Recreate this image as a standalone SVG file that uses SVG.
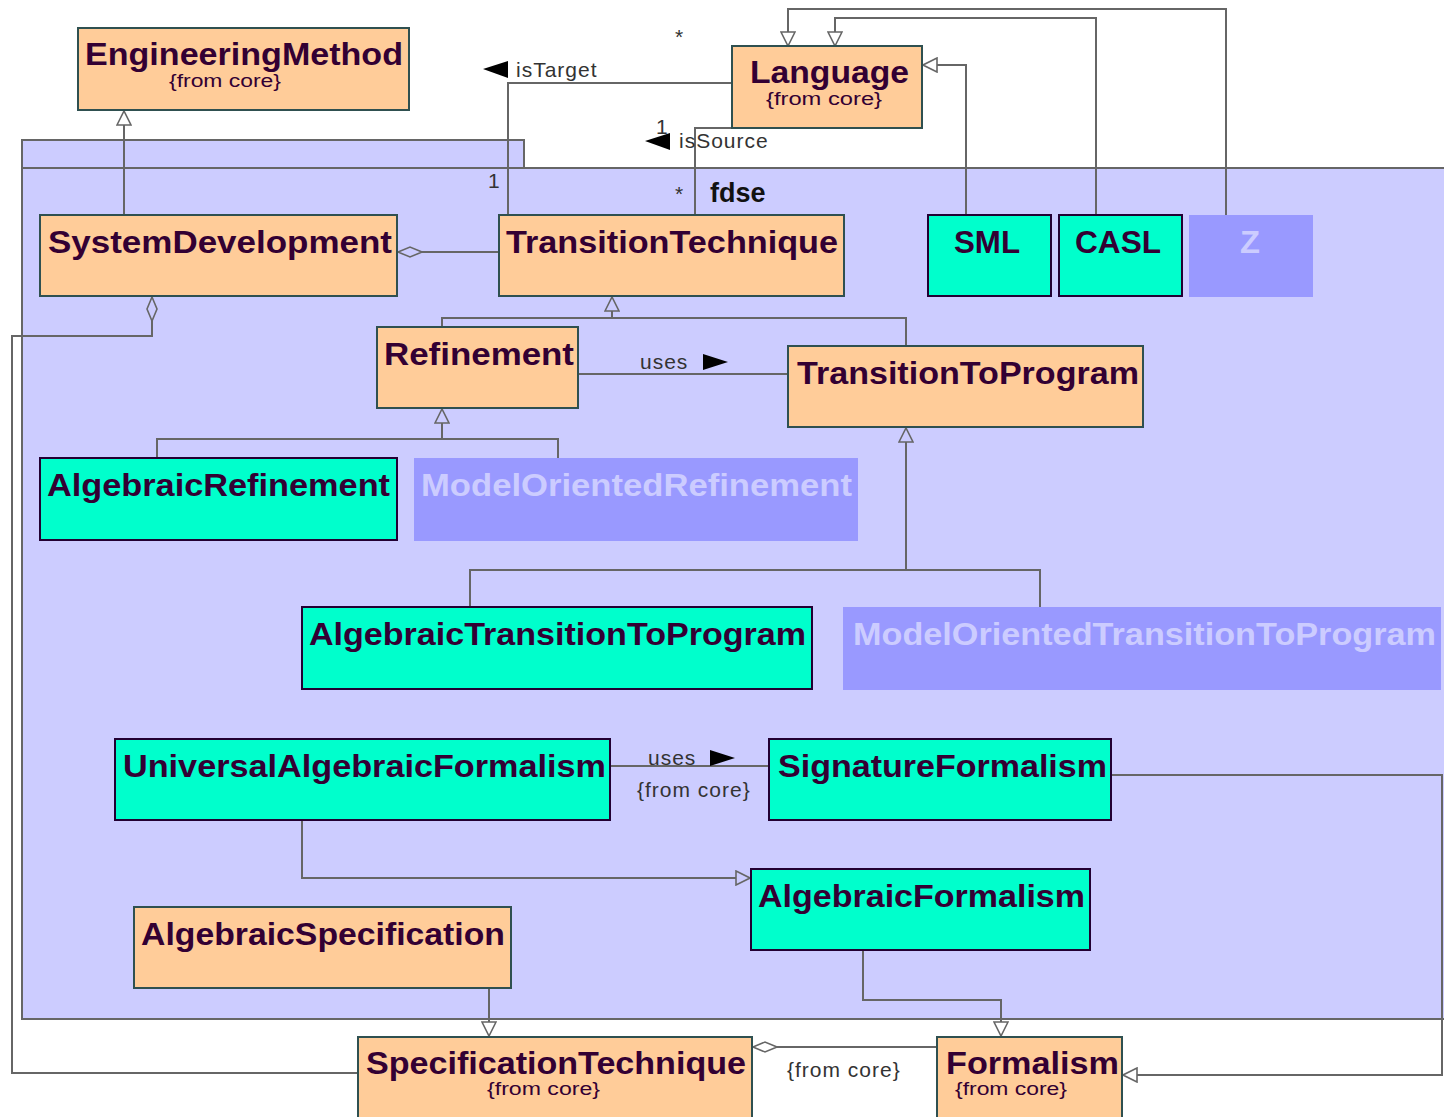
<svg xmlns="http://www.w3.org/2000/svg" width="1444" height="1117" viewBox="0 0 1444 1117">
<defs>
<marker id="gen" markerUnits="userSpaceOnUse" markerWidth="16" markerHeight="16" viewBox="0 0 16 16" refX="15" refY="8" orient="auto">
<path d="M1,1 L15,8 L1,15 Z" fill="#ffffff" stroke="#666666" stroke-width="1.6"/>
</marker>
<marker id="genb" markerUnits="userSpaceOnUse" markerWidth="16" markerHeight="16" viewBox="0 0 16 16" refX="15" refY="8" orient="auto">
<path d="M1,1 L15,8 L1,15 Z" fill="#ccccff" stroke="#666666" stroke-width="1.6"/>
</marker>
<marker id="dia" markerUnits="userSpaceOnUse" markerWidth="28" markerHeight="14" viewBox="0 0 28 14" refX="25" refY="7" orient="auto">
<path d="M1,7 L13,2 L25,7 L13,12 Z" fill="#ccccff" stroke="#666666" stroke-width="1.6"/>
</marker>
<marker id="diaw" markerUnits="userSpaceOnUse" markerWidth="28" markerHeight="14" viewBox="0 0 28 14" refX="25" refY="7" orient="auto">
<path d="M1,7 L13,2 L25,7 L13,12 Z" fill="#ffffff" stroke="#666666" stroke-width="1.6"/>
</marker>
</defs>
<style>
.or{fill:#ffcc99;stroke:#2f5050;stroke-width:2}
.cy{fill:#00ffcc;stroke:#220033;stroke-width:2}
.pu{fill:#9999ff;stroke:none}
.t{font-family:"Liberation Sans",Arial,sans-serif;font-weight:bold;font-size:31px;fill:#330033}
.tl{font-family:"Liberation Sans",Arial,sans-serif;font-weight:bold;font-size:31px;fill:#ccccff}
.f{font-family:"Liberation Sans",Arial,sans-serif;font-size:18px;fill:#330033}
.l{font-family:"Liberation Sans",Arial,sans-serif;font-size:21px;letter-spacing:1px;fill:#333333}
.c{fill:none;stroke:#666666;stroke-width:2}
</style>
<rect width="1444" height="1117" fill="#ffffff"/>
<g id="package-fdse">
<rect x="22" y="140" width="502" height="28" fill="#ccccff" stroke="#666666" stroke-width="2"/>
<rect x="22" y="168" width="1430" height="851" fill="#ccccff" stroke="#666666" stroke-width="2"/>
<text x="710" y="202" font-family="Liberation Sans,Arial,sans-serif" font-weight="bold" font-size="27" fill="#111111">fdse</text>
</g>
<g id="connectors">
<path class="c" d="M124,215 V111" marker-end="url(#gen)"/>
<path class="c" d="M732,83 H508 V215"/>
<path class="c" d="M695,215 V128 H732"/>
<path class="c" d="M966,215 V65 H923" marker-end="url(#gen)"/>
<path class="c" d="M1096,215 V18 H835 V46" marker-end="url(#gen)"/>
<path class="c" d="M1226,215 V9 H788 V46" marker-end="url(#gen)"/>
<path class="c" d="M499,252 H398" marker-end="url(#dia)"/>
<path class="c" d="M358,1073 H12 V336 H152 V297" marker-end="url(#dia)"/>
<path class="c" d="M442,327 V318 H906 V346"/>
<path class="c" d="M612,318 V297" marker-end="url(#genb)"/>
<path class="c" d="M578,374 H788"/>
<path class="c" d="M157,458 V439 H558 V458"/>
<path class="c" d="M442,439 V409" marker-end="url(#genb)"/>
<path class="c" d="M470,607 V570 H1040 V607"/>
<path class="c" d="M906,570 V428" marker-end="url(#genb)"/>
<path class="c" d="M610,766 H769"/>
<path class="c" d="M302,820 V878 H750" marker-end="url(#genb)"/>
<path class="c" d="M863,950 V1000 H1001 V1036" marker-end="url(#gen)"/>
<path class="c" d="M489,988 V1036" marker-end="url(#gen)"/>
<path class="c" d="M1111,775 H1442 V1075 H1123" marker-end="url(#gen)"/>
<path class="c" d="M937,1047 H753" marker-end="url(#diaw)"/>
<polygon points="483,69 508,61 508,78" fill="#000000"/>
<text class="l" x="516" y="77">isTarget</text>
<polygon points="645,141 670,133 670,150" fill="#000000"/>
<text class="l" x="679" y="148">isSource</text>
<text class="l" x="675" y="44">*</text>
<text class="l" x="488" y="188">1</text>
<text class="l" x="656" y="134">1</text>
<text class="l" x="675" y="201">*</text>
<text class="l" x="640" y="369">uses</text>
<polygon points="728,362 703,354 703,370" fill="#000000"/>
<text class="l" x="648" y="765">uses</text>
<polygon points="735,758 710,750 710,766" fill="#000000"/>
<text class="l" x="637" y="797">{from core}</text>
<text class="l" x="787" y="1077">{from core}</text>
</g>
<g id="EngineeringMethod">
<rect class="or" x="78" y="28" width="331" height="82"/>
<text class="t" x="85" y="65" textLength="318" lengthAdjust="spacingAndGlyphs">EngineeringMethod</text>
<text class="f" x="169" y="87" textLength="112" lengthAdjust="spacingAndGlyphs">{from core}</text>
</g>
<g id="Language">
<rect class="or" x="732" y="46" width="190" height="82"/>
<text class="t" x="750" y="83" textLength="159" lengthAdjust="spacingAndGlyphs">Language</text>
<text class="f" x="766" y="105" textLength="116" lengthAdjust="spacingAndGlyphs">{from core}</text>
</g>
<g id="SystemDevelopment">
<rect class="or" x="40" y="215" width="357" height="81"/>
<text class="t" x="48" y="253" textLength="344" lengthAdjust="spacingAndGlyphs">SystemDevelopment</text>
</g>
<g id="TransitionTechnique">
<rect class="or" x="499" y="215" width="345" height="81"/>
<text class="t" x="506" y="253" textLength="332" lengthAdjust="spacingAndGlyphs">TransitionTechnique</text>
</g>
<g id="SML">
<rect class="cy" x="928" y="215" width="123" height="81"/>
<text class="t" x="954" y="253" textLength="66" lengthAdjust="spacingAndGlyphs">SML</text>
</g>
<g id="CASL">
<rect class="cy" x="1059" y="215" width="123" height="81"/>
<text class="t" x="1075" y="253" textLength="86" lengthAdjust="spacingAndGlyphs">CASL</text>
</g>
<g id="Z">
<rect class="pu" x="1189" y="215" width="124" height="82"/>
<text class="tl" x="1240" y="253" textLength="20" lengthAdjust="spacingAndGlyphs">Z</text>
</g>
<g id="Refinement">
<rect class="or" x="377" y="327" width="201" height="81"/>
<text class="t" x="384" y="365" textLength="190" lengthAdjust="spacingAndGlyphs">Refinement</text>
</g>
<g id="TransitionToProgram">
<rect class="or" x="788" y="346" width="355" height="81"/>
<text class="t" x="797" y="384" textLength="342" lengthAdjust="spacingAndGlyphs">TransitionToProgram</text>
</g>
<g id="AlgebraicRefinement">
<rect class="cy" x="40" y="458" width="357" height="82"/>
<text class="t" x="47" y="496" textLength="343" lengthAdjust="spacingAndGlyphs">AlgebraicRefinement</text>
</g>
<g id="ModelOrientedRefinement">
<rect class="pu" x="414" y="458" width="444" height="83"/>
<text class="tl" x="421" y="496" textLength="431" lengthAdjust="spacingAndGlyphs">ModelOrientedRefinement</text>
</g>
<g id="AlgebraicTransitionToProgram">
<rect class="cy" x="302" y="607" width="510" height="82"/>
<text class="t" x="309" y="645" textLength="497" lengthAdjust="spacingAndGlyphs">AlgebraicTransitionToProgram</text>
</g>
<g id="ModelOrientedTransitionToProgram">
<rect class="pu" x="843" y="607" width="598" height="83"/>
<text class="tl" x="853" y="645" textLength="583" lengthAdjust="spacingAndGlyphs">ModelOrientedTransitionToProgram</text>
</g>
<g id="UniversalAlgebraicFormalism">
<rect class="cy" x="115" y="739" width="495" height="81"/>
<text class="t" x="123" y="777" textLength="483" lengthAdjust="spacingAndGlyphs">UniversalAlgebraicFormalism</text>
</g>
<g id="SignatureFormalism">
<rect class="cy" x="769" y="739" width="342" height="81"/>
<text class="t" x="778" y="777" textLength="329" lengthAdjust="spacingAndGlyphs">SignatureFormalism</text>
</g>
<g id="AlgebraicFormalism">
<rect class="cy" x="751" y="869" width="339" height="81"/>
<text class="t" x="758" y="907" textLength="327" lengthAdjust="spacingAndGlyphs">AlgebraicFormalism</text>
</g>
<g id="AlgebraicSpecification">
<rect class="or" x="134" y="907" width="377" height="81"/>
<text class="t" x="141" y="945" textLength="364" lengthAdjust="spacingAndGlyphs">AlgebraicSpecification</text>
</g>
<g id="SpecificationTechnique">
<rect class="or" x="358" y="1037" width="394" height="90" stroke="#330033"/>
<text class="t" x="366" y="1074" textLength="380" lengthAdjust="spacingAndGlyphs" fill="#1a0033">SpecificationTechnique</text>
<text class="f" x="487" y="1095" textLength="113" lengthAdjust="spacingAndGlyphs">{from core}</text>
</g>
<g id="Formalism">
<rect class="or" x="937" y="1037" width="185" height="90" stroke="#330033"/>
<text class="t" x="946" y="1074" textLength="173" lengthAdjust="spacingAndGlyphs" fill="#1a0033">Formalism</text>
<text class="f" x="955" y="1095" textLength="112" lengthAdjust="spacingAndGlyphs">{from core}</text>
</g>
</svg>
